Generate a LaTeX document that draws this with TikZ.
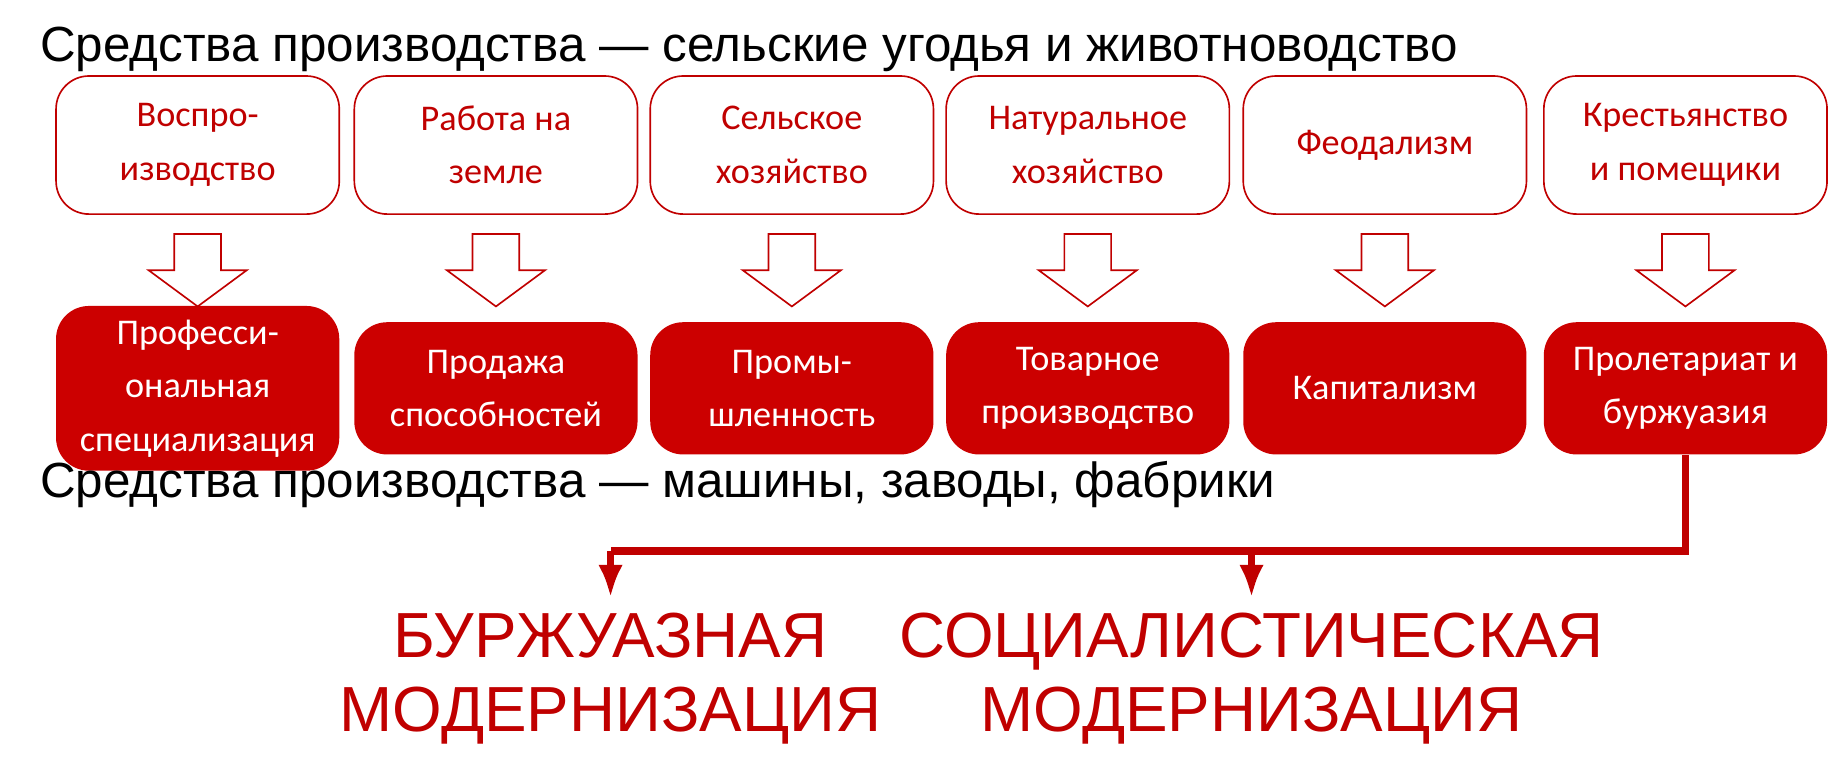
\documentclass[tikz,border=0pt]{standalone}
\usepackage{fontspec}
\setmainfont{Liberation Sans}
\newfontfamily\boxfont{Carlito}
\usetikzlibrary{positioning,arrows.meta}
\definecolor{darkred}{HTML}{C00000}
\definecolor{boxred}{HTML}{CC0000}
\tikzset{
  topbox/.style={draw=darkred, rounded corners=8pt, minimum width=2.42cm, minimum height=1.18cm,
    align=center, text=darkred, font=\boxfont\fontsize{8.8}{13}\selectfont, fill=white},
  botbox/.style={fill=boxred, rounded corners=8pt, minimum width=2.42cm, minimum height=1.13cm,
    align=center, text=white, font=\boxfont\fontsize{8.8}{13}\selectfont},
  headline/.style={anchor=west, font=\fontsize{12}{14}\selectfont},
  result/.style={align=center, text=darkred, font=\fontsize{15.5}{18}\selectfont},
  link/.style={draw=darkred, line width=1.8pt},
}
\begin{document}
\begin{tikzpicture}[x=0.01cm,y=-0.01cm]
\useasboundingbox (0,0) rectangle (1568,654);

\node[headline] (top) at (22,42) {Средства производства — сельские угодья и животноводство};

% upper and lower rows
\foreach \x/\up/\down [count=\i] in {
  169/{Воспро-\\изводство}/{Професси-\\ональная\\специализация},
  424/{Работа на\\земле}/{Продажа\\способностей},
  677/{Сельское\\хозяйство}/{Промы-\\шленность},
  930/{Натуральное\\хозяйство}/{Товарное\\производство},
  1184/{Феодализм}/{Капитализм},
  1441/{Крестьянство\\и помещики}/{Пролетариат и\\буржуазия}}{
  \node[topbox] (up\i) at (\x,124) {\up};
  \node[botbox] (down\i) at (\x,332) {\down};
  \draw[darkred, fill=white] (\x-20,200) -- (\x+20,200) -- (\x+20,231) -- (\x+42,231)
    -- (\x,262) -- (\x-42,231) -- (\x-20,231) -- cycle;
}

\node[headline] (bottom) at (22,414) {Средства производства — машины, заводы, фабрики};

\node[result] (bourg) at (522,580) {БУРЖУАЗНАЯ\\МОДЕРНИЗАЦИЯ};
\node[result] (social) at (1070,580) {СОЦИАЛИСТИЧЕСКАЯ\\МОДЕРНИЗАЦИЯ};

\coordinate (split) at (down6.south |- 0,471);
\draw[link] (down6.south) -- (split) -- (bourg.north |- split) coordinate (left);
\draw[link, -{Latex[length=8pt,width=6pt]}] (left) -- ++(0,40);
\draw[link, -{Latex[length=8pt,width=6pt]}] (social.north |- split) -- ++(0,40);
\end{tikzpicture}
\end{document}
